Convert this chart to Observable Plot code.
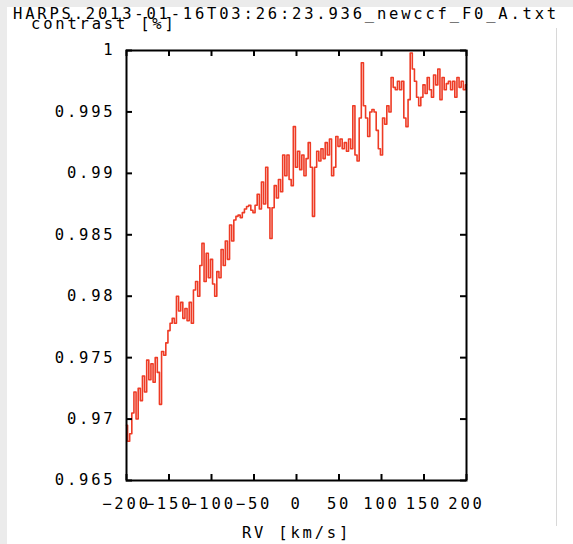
<!DOCTYPE html>
<html>
<head>
<meta charset="utf-8">
<script src="https://cdn.jsdelivr.net/npm/d3@7"></script>
<script src="https://cdn.jsdelivr.net/npm/@observablehq/plot@0.6"></script>
<style>
  html, body { margin: 0; padding: 0; background: #fff; }
  #wrap { position: relative; width: 573px; height: 544px; overflow: hidden; background: #ebebeb; }
  #paper { position: absolute; left: 7px; top: 7px; right: 0; bottom: 0; background: #fff; }
  #edge { position: absolute; left: 556px; top: 28px; width: 1px; height: 498px; background: #d8d8d8; }
  #chart { position: absolute; left: 0; top: 0; }
  .lbl { position: absolute; font-family: "DejaVu Sans Mono", monospace; font-size: 15.5px; letter-spacing: 2.8px; color: #000; white-space: nowrap; line-height: 1; }
</style>
</head>
<body>
<div id="wrap">
  <div id="paper"></div>
  <div id="edge"></div>
  <div id="chart"></div>
  <div class="lbl" id="title" style="left:13px; top:7px;">HARPS.2013-01-16T03:26:23.936_newccf_F0_A.txt</div>
  <div class="lbl" id="ylabel" style="left:31px; top:17px;">contrast [%]</div>
</div>
<script>
// Radial-velocity grid of the CCF (km/s)
const rvStart = -200;
const rvStep = 2.5;

// CCF contrast sampled on the RV grid
const contrast = [
  0.9695, 0.9682, 0.9688, 0.9705, 0.9722, 0.9700, 0.9725, 0.9715, 0.9735, 0.9722,
  0.9748, 0.9732, 0.9745, 0.9730, 0.9750, 0.9738, 0.9712, 0.9755, 0.9752, 0.9762,
  0.9772, 0.9778, 0.9782, 0.9778, 0.9800, 0.9788, 0.9795, 0.9782, 0.9790, 0.9780,
  0.9795, 0.9778, 0.9805, 0.9812, 0.9800, 0.9825, 0.9843, 0.9812, 0.9835, 0.9815,
  0.9830, 0.9810, 0.9800, 0.9820, 0.9815, 0.9838, 0.9825, 0.9845, 0.9830, 0.9858,
  0.9845, 0.9862, 0.9865, 0.9866, 0.9864, 0.9868, 0.9871, 0.9873, 0.9874, 0.9870,
  0.9868, 0.9874, 0.9883, 0.9871, 0.9893, 0.9875, 0.9905, 0.9872, 0.9847, 0.9872,
  0.9890, 0.9880, 0.9895, 0.9885, 0.9915, 0.9898, 0.9915, 0.9895, 0.9890, 0.9938,
  0.9905, 0.9918, 0.9903, 0.9915, 0.9898, 0.9912, 0.9925, 0.9905, 0.9865, 0.9905,
  0.9918, 0.9910, 0.9920, 0.9912, 0.9925, 0.9915, 0.9928, 0.9898, 0.9905, 0.9930,
  0.9922, 0.9928, 0.9920, 0.9925, 0.9918, 0.9928, 0.9920, 0.9955, 0.9915, 0.9910,
  0.9945, 0.9990, 0.9955, 0.9945, 0.9930, 0.9950, 0.9952, 0.9950, 0.9935, 0.9920,
  0.9915, 0.9945, 0.9940, 0.9955, 0.9950, 0.9978, 0.9970, 0.9968, 0.9975, 0.9968,
  0.9975, 0.9945, 0.9938, 0.9960, 0.9998, 0.9985, 0.9975, 0.9962, 0.9955, 0.9962,
  0.9972, 0.9965, 0.9978, 0.9968, 0.9962, 0.9980, 0.9972, 0.9985, 0.9960, 0.9978,
  0.9968, 0.9973, 0.9975, 0.9968, 0.9975, 0.9962, 0.9978, 0.9970, 0.9975, 0.9968,
  0.9972
];

// Axis ticks
const xTicks = [-200, -150, -100, -50, 0, 50, 100, 150, 200];
const yTicks = [0.965, 0.97, 0.975, 0.98, 0.985, 0.99, 0.995, 1];
const xLabel = "RV [km/s]";

const ccf = contrast.map((c, i) => ({rv: rvStart + i * rvStep, contrast: c}));

const W = 573, H = 544;
const mL = 126, mR = 107, mT = 50, mB = 64;
const plotW = W - mL - mR, plotH = H - mT - mB;
const tick = 6;

const chart = Plot.plot({
  width: W,
  height: H,
  marginLeft: mL,
  marginRight: mR,
  marginTop: mT,
  marginBottom: mB,
  style: {
    background: "transparent",
    fontFamily: "'DejaVu Sans Mono', monospace",
    fontSize: "15.5px",
    letterSpacing: "2.8px",
    color: "#000",
    overflow: "visible"
  },
  x: {domain: [-200, 200], label: null},
  y: {domain: [0.965, 1], label: null},
  marks: [
    Plot.line(ccf, {x: "rv", y: "contrast", curve: "step", stroke: "#ee3b25", strokeWidth: 1.6}),
    // inward ticks on all four sides
    Plot.tickX(xTicks, {x: d => d, insetTop: plotH - tick, stroke: "#000", strokeWidth: 2}),
    Plot.tickX(xTicks, {x: d => d, insetBottom: plotH - tick, stroke: "#000", strokeWidth: 2}),
    Plot.tickY(yTicks, {y: d => d, insetRight: plotW - tick, stroke: "#000", strokeWidth: 2}),
    Plot.tickY(yTicks, {y: d => d, insetLeft: plotW - tick, stroke: "#000", strokeWidth: 2}),
    Plot.frame({stroke: "#000", strokeWidth: 2}),
    Plot.axisX({ticks: xTicks, tickSize: 0, tickPadding: 17, fill: "#000"}),
    Plot.axisY({ticks: yTicks, tickSize: 0, tickPadding: 11, tickFormat: d => String(d), fill: "#000"}),
    Plot.text([xLabel], {text: d => d, frameAnchor: "bottom", dy: 57, fill: "#000"})
  ]
});

document.getElementById("chart").appendChild(chart);
</script>
</body>
</html>
